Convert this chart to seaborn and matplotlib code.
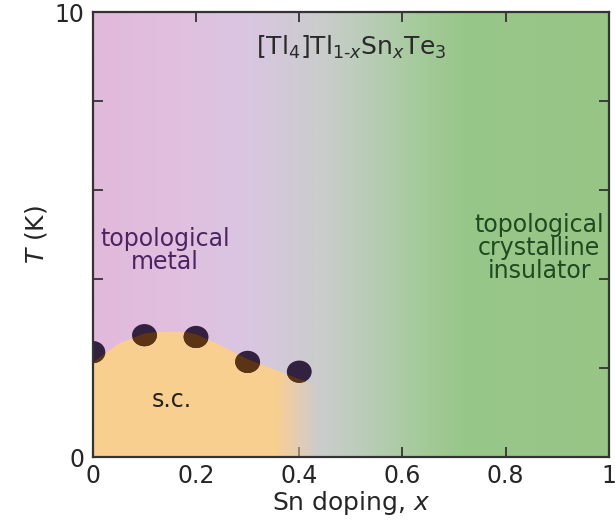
import numpy as np
import pandas as pd
import matplotlib
matplotlib.use("Agg")
import matplotlib.pyplot as plt
import seaborn as sns
from matplotlib.path import Path
from matplotlib.patches import Polygon
from matplotlib.colors import LinearSegmentedColormap, to_rgb
from matplotlib.markers import MarkerStyle
from matplotlib.transforms import Affine2D
from matplotlib.ticker import FixedLocator

# Superconducting transition temperatures
sn_doping = [0.0, 0.1, 0.2, 0.3, 0.4]
tc_kelvin = [2.36, 2.74, 2.70, 2.14, 1.92]

# Edge of the superconducting dome
dome_x = [0.0, 0.05, 0.10, 0.125, 0.15, 0.18, 0.20, 0.25, 0.30, 0.35, 0.40, 0.45]
dome_t = [2.13, 2.55, 2.78, 2.81, 2.82, 2.81, 2.76, 2.50, 2.20, 1.98, 1.75, 1.60]

# Background colour stops across the doping axis
bg_pos = [0.0, 0.15, 0.30, 0.45, 0.55, 0.65, 0.72, 1.0]
bg_col = ["#e2b9db", "#e1bfde", "#dac6e2", "#c9cdcb", "#b6ccb2", "#a2ca97", "#98c78a", "#96c586"]

x_ticks = [0, 0.2, 0.4, 0.6, 0.8, 1]
x_tick_labels = ["0", "0.2", "0.4", "0.6", "0.8", "1"]
y_ticks = [0, 10]
y_minor = [2, 4, 6, 8]

sns.set_theme(style="ticks")
plt.rcParams["font.family"] = ["DejaVu Sans"]
plt.rcParams["mathtext.fontset"] = "dejavusans"

fig = plt.figure(figsize=(6.15, 5.23), dpi=100)
ax = fig.add_axes([0.151, 0.126, 0.839, 0.851])
ax.set_xlim(0, 1)
ax.set_ylim(0, 10)

# Phase background
cmap = LinearSegmentedColormap.from_list("phase", list(zip(bg_pos, bg_col)))
grad = np.linspace(0, 1, 600)[None, :]
ax.imshow(grad, cmap=cmap, extent=[0, 1, 0, 10], aspect="auto", zorder=0, interpolation="bilinear")

# Superconducting dome, fading out at the high-doping edge
dome_poly = Polygon(list(zip(dome_x, dome_t)) + [(dome_x[-1], 0), (0, 0)],
                    closed=True, facecolor="none", edgecolor="none", transform=ax.transData)
ax.add_patch(dome_poly)
orange = np.array(to_rgb("#f9cf90"))
xs = np.linspace(0, 1, 600)
alpha = np.clip((0.44 - xs) / (0.44 - 0.355), 0, 1)
rgba = np.zeros((1, 600, 4))
rgba[0, :, :3] = orange
rgba[0, :, 3] = alpha
im = ax.imshow(rgba, extent=[0, 1, 0, 10], aspect="auto", zorder=1, interpolation="bilinear")
im.set_clip_path(dome_poly)

# Elliptical markers
ell = Path.unit_circle().transformed(Affine2D().scale(1.12, 1.0))
marker = MarkerStyle(ell)
df = pd.DataFrame({"x": sn_doping, "T": tc_kelvin})
sns.scatterplot(data=df, x="x", y="T", marker=marker, s=320, color="#32213f",
                edgecolor="none", linewidth=0, ax=ax, zorder=3)
sns.scatterplot(data=df, x="x", y="T", marker=marker, s=320, color="#5a3413",
                edgecolor="none", linewidth=0, ax=ax, zorder=4)
ax.collections[-1].set_clip_path(dome_poly)

# Labels inside the diagram
ax.text(0.5, 9.2, r"[Tl$_4$]Tl$_{1\text{-}x}$Sn$_x$Te$_3$", ha="center", va="center",
        fontsize=18, color="#2a2a2a", zorder=5)
ax.text(0.14, 4.65, "topological\nmetal", ha="center", va="center", fontsize=17,
        color="#4c2462", linespacing=0.95, zorder=5)
ax.text(0.865, 4.7, "topological\ncrystalline\ninsulator", ha="center", va="center",
        fontsize=17, color="#1f4a20", linespacing=0.95, zorder=5)
ax.text(0.153, 1.28, "s.c.", ha="center", va="center", fontsize=17,
        color="#222222", zorder=5)

# Axes styling
ax.set_xticks(x_ticks)
ax.set_xticklabels(x_tick_labels)
ax.set_yticks(y_ticks)
ax.set_yticklabels([str(v) for v in y_ticks])
ax.yaxis.set_minor_locator(FixedLocator(y_minor))
ax.tick_params(axis="both", which="both", direction="in", top=True, right=True,
               length=7, width=1.3, color="#333333", labelsize=17, pad=6)
ax.tick_params(axis="x", pad=5)
for sp in ax.spines.values():
    sp.set_color("#333333")
    sp.set_linewidth(1.6)
    sp.set_zorder(6)
ax.set_xlabel(r"Sn doping, $x$", fontsize=18, labelpad=1)
ax.set_ylabel(r"$T$ (K)", fontsize=18, labelpad=4)

fig.savefig("out.png", dpi=100)
